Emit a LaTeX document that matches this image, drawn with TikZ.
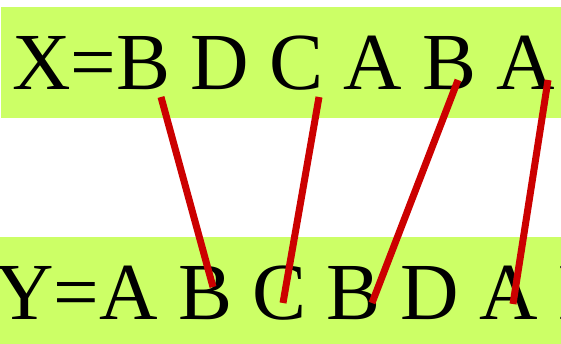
\documentclass[tikz,border=0pt]{standalone}
\usepackage{fontspec}
\setmainfont{Liberation Serif}
\definecolor{bandgreen}{HTML}{CCFF66}
\definecolor{linkred}{HTML}{CC0000}
\begin{document}
\begin{tikzpicture}[x=1pt,y=-1pt,
  band/.style={fill=bandgreen,draw=none},
  seq/.style={anchor=base west,inner sep=0pt,font=\fontsize{81}{90}\selectfont},
  link/.style={draw=linkred,line width=7pt,line cap=butt}]
\useasboundingbox (0,0) rectangle (561,344);
\clip (0,0) rectangle (561,344);
\fill[band] (1,7) rectangle (561,118);
\fill[band] (0,237) rectangle (561,344);
\node[seq] (x) at (12,90) {X=B D C A B A};
\node[seq] (y) at (-5,319) {Y=A B C B D A B};
\coordinate (x1) at (161,97);
\coordinate (x2) at (319,97);
\coordinate (x3) at (458,80);
\coordinate (x4) at (548,80);
\coordinate (y1) at (213,287);
\coordinate (y2) at (283,303);
\coordinate (y3) at (372,303);
\coordinate (y4) at (513,304);
\draw[link] (x1) -- (y1);
\draw[link] (x2) -- (y2);
\draw[link] (x3) -- (y3);
\draw[link] (x4) -- (y4);
\end{tikzpicture}
\end{document}
